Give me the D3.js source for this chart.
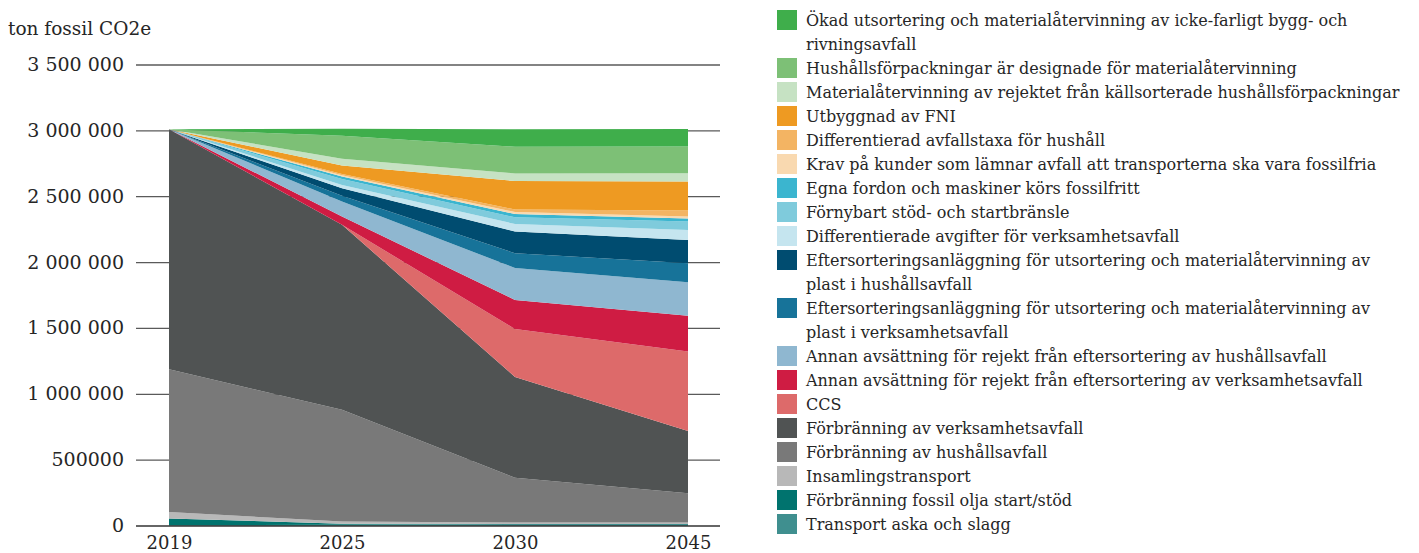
<!DOCTYPE html>
<html>
<head>
<meta charset="utf-8">
<script src="https://cdn.jsdelivr.net/npm/d3@7"></script>
<style>
  body { margin: 0; background: #fff; }
  text { font-family: "DejaVu Serif", Georgia, serif; fill: #262626; }
</style>
</head>
<body>
<div id="main"></div>
<script>
// series, listed top of stack -> bottom (same order as legend)
var labels = [
    ['Ökad utsortering och materialåtervinning av icke-farligt bygg- och', 'rivningsavfall'],
    ['Hushållsförpackningar är designade för materialåtervinning'],
    ['Materialåtervinning av rejektet från källsorterade hushållsförpackningar'],
    ['Utbyggnad av FNI'],
    ['Differentierad avfallstaxa för hushåll'],
    ['Krav på kunder som lämnar avfall att transporterna ska vara fossilfria'],
    ['Egna fordon och maskiner körs fossilfritt'],
    ['Förnybart stöd- och startbränsle'],
    ['Differentierade avgifter för verksamhetsavfall'],
    ['Eftersorteringsanläggning för utsortering och materialåtervinning av', 'plast i hushållsavfall'],
    ['Eftersorteringsanläggning för utsortering och materialåtervinning av', 'plast i verksamhetsavfall'],
    ['Annan avsättning för rejekt från eftersortering av hushållsavfall'],
    ['Annan avsättning för rejekt från eftersortering av verksamhetsavfall'],
    ['CCS'],
    ['Förbränning av verksamhetsavfall'],
    ['Förbränning av hushållsavfall'],
    ['Insamlingstransport'],
    ['Förbränning fossil olja start/stöd'],
    ['Transport aska och slagg']
];
var colors = ['#3fae4b', '#7dc076', '#c6e2c3', '#ee9a22', '#f3b463', '#f9d9b0', '#3bb5cf',
    '#7fcbdc', '#c5e5ef', '#004c70', '#177399', '#8fb7d0', '#cf1c43', '#dd6a6a',
    '#505353', '#797979', '#b8b8b8', '#00736e', '#3f8f8f'];

var years = ['2019', '2025', '2030', '2045'];

// ton fossil CO2e per series, same order as labels
var v2019 = [0, 0, 0, 0, 0, 0, 0, 0, 0, 0, 0, 0, 0, 0, 1822000, 1083000, 50000, 52000, 5000];
var v2025 = [53000, 175000, 51000, 65000, 9000, 9000, 20000, 46000, 23000, 58000, 43000, 114000, 63000, 0, 1405000, 848000, 16000, 8000, 10000];
var v2030 = [134000, 202000, 58000, 216000, 19000, 15000, 25000, 51000, 58000, 164000, 112000, 243000, 220000, 364000, 765000, 340000, 12000, 0, 15000];
var v2045 = [134000, 202000, 64000, 220000, 46000, 15000, 23000, 63000, 76000, 177000, 144000, 254000, 273000, 602000, 473000, 222000, 12000, 0, 15000];

var yTicks = [0, 500000, 1000000, 1500000, 2000000, 2500000, 3000000, 3500000];
var yTickLabels = ['0', '500000', '1 000 000', '1 500 000', '2 000 000', '2 500 000', '3 000 000', '3 500 000'];

var W = 1419, H = 553;
var svg = d3.select('#main').append('svg')
    .attr('width', W).attr('height', H);
svg.append('rect').attr('width', W).attr('height', H).attr('fill', '#fff');

var x = d3.scalePoint().domain(years).range([169, 688]);
var y = d3.scaleLinear().domain([0, 3500000]).range([526, 65]);

var cols = [v2019, v2025, v2030, v2045];
var keys = d3.range(labels.length);
var rows = years.map(function(yr, i) {
    var r = { year: yr };
    keys.forEach(function(k) { r[k] = cols[i][k]; });
    return r;
});

// stack bottom -> top, so reverse the legend order
var stack = d3.stack().keys(keys.slice().reverse());
var layers = stack(rows);

// gridlines
svg.append('g').selectAll('line')
    .data(yTicks.slice(1))
    .enter().append('line')
    .attr('x1', 136).attr('x2', 720)
    .attr('y1', function(d) { return y(d); }).attr('y2', function(d) { return y(d); })
    .attr('stroke', '#5a5a5a').attr('stroke-width', 1.3);

var area = d3.area()
    .x(function(d) { return x(d.data.year); })
    .y0(function(d) { return y(d[0]); })
    .y1(function(d) { return y(d[1]); });

svg.append('g').selectAll('path')
    .data(layers)
    .enter().append('path')
    .attr('d', area)
    .attr('fill', function(d) { return colors[d.key]; });

// base line
svg.append('line')
    .attr('x1', 136).attr('x2', 720).attr('y1', y(0)).attr('y2', y(0))
    .attr('stroke', '#333').attr('stroke-width', 1.5);

// y tick labels
svg.append('g').selectAll('text')
    .data(yTicks)
    .enter().append('text')
    .attr('x', 124).attr('y', function(d) { return y(d) + 6; })
    .attr('text-anchor', 'end').attr('font-size', 19)
    .text(function(d, i) { return yTickLabels[i]; });

svg.append('text')
    .attr('x', 8).attr('y', 35).attr('font-size', 18.5)
    .text('ton fossil CO2e');

// x axis labels
var xAxis = d3.axisBottom(x).tickSize(0).tickPadding(0);
var gx = svg.append('g').attr('transform', 'translate(0,' + 536 + ')').call(xAxis);
gx.select('.domain').remove();
gx.selectAll('text')
    .attr('font-size', 18).attr('font-family', '"DejaVu Serif", Georgia, serif')
    .attr('fill', '#262626');

// legend
var row = 0;
var leg = svg.append('g');
labels.forEach(function(lines, i) {
    var cy = 20 + 24 * row;
    leg.append('rect')
        .attr('x', 777).attr('y', cy - 10).attr('width', 20).attr('height', 20)
        .attr('fill', colors[i]);
    lines.forEach(function(t, j) {
        leg.append('text')
            .attr('x', 806).attr('y', cy + 24 * j + 6)
            .attr('font-size', 16)
            .text(t);
    });
    row += lines.length;
});
</script>
</body>
</html>
